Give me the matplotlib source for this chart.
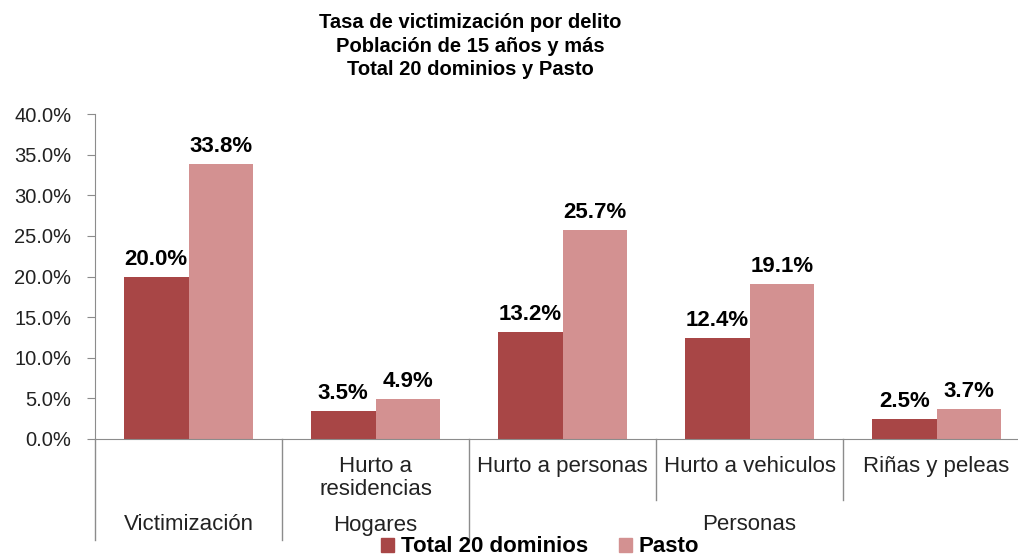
import matplotlib.pyplot as plt
import matplotlib.transforms as mtransforms
from matplotlib.patches import Patch

plt.rcParams['font.family'] = ['Liberation Sans', 'DejaVu Sans']

# --- Data ---
sub_labels = ["", "Hurto a\nresidencias", "Hurto a personas", "Hurto a vehiculos", "Riñas y peleas"]
group_labels = ["Victimización", "Hogares", "Personas"]
group_spans = [(0, 0), (1, 1), (2, 4)]
total_20 = [20.0, 3.5, 13.2, 12.4, 2.5]
pasto = [33.8, 4.9, 25.7, 19.1, 3.7]
series_names = ["Total 20 dominios", "Pasto"]

dark = "#A84646"
light = "#D39191"
gray = "#8C8C8C"

fig = plt.figure(figsize=(10.18, 5.58), dpi=100)
ax = fig.add_axes([95 / 1018, 1 - 439 / 558, (1030 - 95) / 1018, (439 - 114) / 558])

x = list(range(len(total_20)))
w = 0.345
b1 = ax.bar([i - w / 2 for i in x], total_20, w, color=dark)
b2 = ax.bar([i + w / 2 for i in x], pasto, w, color=light)

for bars, vals in [(b1, total_20), (b2, pasto)]:
    for r, v in zip(bars, vals):
        ax.annotate(f"{v:.1f}%", (r.get_x() + r.get_width() / 2, v),
                    xytext=(0, 5), textcoords="offset points",
                    ha="center", va="bottom", fontsize=16, fontweight="bold")

ax.set_xlim(-0.5, 4.5)
ax.set_ylim(0, 40)
ax.set_yticks(range(0, 41, 5))
ax.set_yticklabels([f"{t:.1f}%" for t in range(0, 41, 5)], fontsize=14.5, color="#222222")
ax.set_xticks([])
ax.tick_params(axis="y", length=6, color=gray, pad=11)
for s in ["top", "right"]:
    ax.spines[s].set_visible(False)
ax.spines["left"].set_color(gray)
ax.spines["bottom"].set_color(gray)

# --- Category axis with two levels ---
trans = mtransforms.blended_transform_factory(ax.transData, ax.transAxes)
long_y = -(540 - 439) / 325
short_y = -(500 - 439) / 325
for xd, yb in [(-0.5, long_y), (0.5, long_y), (1.5, long_y), (2.5, short_y), (3.5, short_y), (4.5, long_y)]:
    ax.plot([xd, xd], [0, yb], color=gray, lw=1, transform=trans, clip_on=False)

for i, lab in enumerate(sub_labels):
    if lab:
        ax.text(i, -(456 - 439) / 325, lab, transform=trans, ha="center", va="top",
                fontsize=16, linespacing=1.1, color="#222222")

for lab, (a, b) in zip(group_labels, group_spans):
    ax.text((a + b) / 2, -(525 - 439) / 325, lab, transform=trans, ha="center", va="center",
            fontsize=16, color="#222222")

fig.text(470 / 1018, 1 - 46 / 558, "Tasa de victimización por delito\nPoblación de 15 años y más\nTotal 20 dominios y Pasto",
         ha="center", va="center", fontsize=14.5, fontweight="bold", linespacing=1.3)

handles = [Patch(color=dark), Patch(color=light)]
fig.legend(handles, series_names, loc="center", bbox_to_anchor=(540 / 1018, 1 - 547 / 558),
           ncol=2, frameon=False, prop={"weight": "bold", "size": 16},
           handlelength=0.6, handleheight=0.6, handletextpad=0.3, columnspacing=1.4,
           borderpad=0)

fig.savefig("out.png", dpi=100)
